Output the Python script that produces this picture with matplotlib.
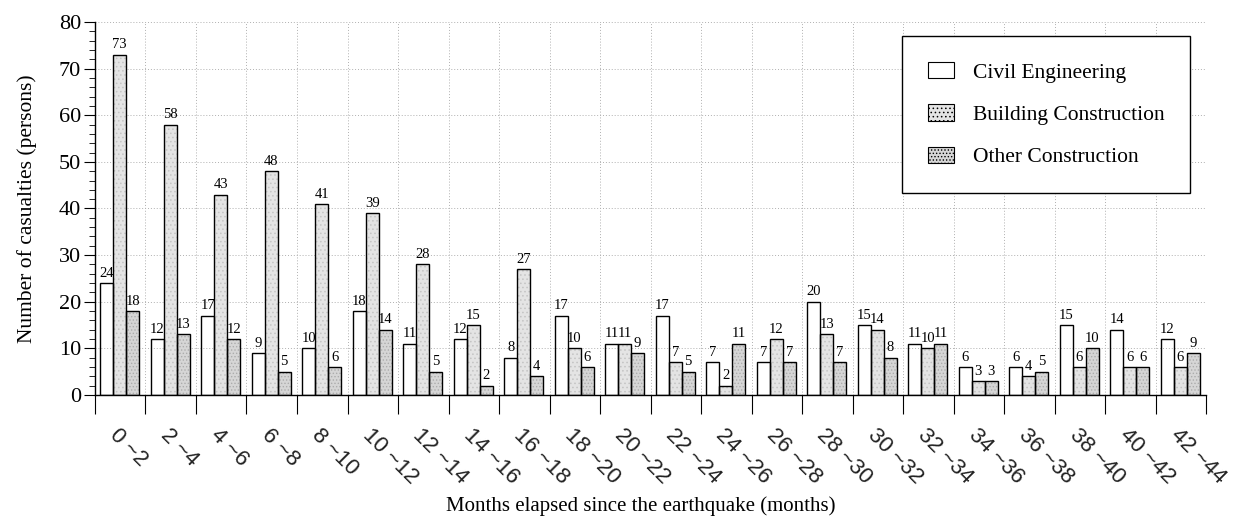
import numpy as np
import matplotlib.pyplot as plt
from matplotlib.patches import Patch
from matplotlib.ticker import MultipleLocator

# periods (months after the earthquake)
periods = ['0 ~2', '2 ~4', '4 ~6', '6 ~8', '8 ~10', '10 ~12', '12 ~14', '14 ~16',
           '16 ~18', '18 ~20', '20 ~22', '22 ~24', '24 ~26', '26 ~28', '28 ~30',
           '30 ~32', '32 ~34', '34 ~36', '36 ~38', '38 ~40', '40 ~42', '42 ~44']
civil = [24, 12, 17, 9, 10, 18, 11, 12, 8, 17, 11, 17, 7, 7, 20, 15, 11, 6, 6, 15, 14, 12]
building = [73, 58, 43, 48, 41, 39, 28, 15, 27, 10, 11, 7, 2, 12, 13, 14, 10, 3, 4, 6, 6, 6]
other = [18, 13, 12, 5, 6, 14, 5, 2, 4, 6, 9, 5, 11, 7, 7, 8, 11, 3, 5, 10, 6, 9]

series_names = ['Civil Engineering', 'Building Construction', 'Other Construction']
series = [civil, building, other]
faces = ['white', '#e4e4e4', '#d6d6d6']
hatch_cols = [None, '#c4c4c4', '#acacac']
hatches = [None, '....', '.....']

plt.rcParams['font.family'] = ['Liberation Serif', 'DejaVu Serif']
plt.rcParams['hatch.linewidth'] = 0.6

fig = plt.figure(figsize=(12.45, 5.24), dpi=100)
ax = fig.add_axes([0.0763, 0.2462, 0.8924, 0.7118])

x = np.arange(len(periods))
w = 0.255
for k, vals in enumerate(series):
    pos = x + 0.49 + (k - 1) * w
    if hatches[k]:
        ax.bar(pos, vals, w, color=faces[k], edgecolor=hatch_cols[k], hatch=hatches[k],
               linewidth=0, zorder=2)
    ax.bar(pos, vals, w, facecolor='none', edgecolor='black', linewidth=1.0, zorder=3)
    for p, v in zip(pos, vals):
        ax.text(p, v + 0.7, str(v), ha='center', va='bottom', fontsize=10.5, zorder=4)

ax.set_xlim(0, len(periods))
ax.set_ylim(0, 80)
ax.yaxis.set_major_locator(MultipleLocator(10))
ax.yaxis.set_minor_locator(MultipleLocator(2))
ax.set_xticks(np.arange(len(periods) + 1))
ax.set_xticklabels([])
ax.tick_params(axis='x', direction='out', length=14, width=0.8)
ax.tick_params(axis='y', which='major', direction='out', length=8, width=0.8,
               labelsize=16, pad=2)
ax.tick_params(axis='y', which='minor', direction='out', length=4, width=0.6)

for s in ['top', 'right']:
    ax.spines[s].set_visible(False)
ax.spines['left'].set_linewidth(1.0)
ax.spines['bottom'].set_linewidth(1.0)

for yv in range(10, 81, 10):
    ax.axhline(yv, color='#b0b0b0', linestyle=(0, (1, 2)), linewidth=0.7, zorder=1)
for xv in range(1, len(periods) + 1):
    ax.axvline(xv, color='#b0b0b0', linestyle=(0, (1, 2)), linewidth=0.7, zorder=1)

for i, lab in enumerate(periods):
    ax.text(i + 0.36, -8.0, lab, rotation=-45, rotation_mode='anchor', ha='left',
            va='center', fontsize=16, family=['Liberation Sans', 'DejaVu Sans'],
            color='#222222')

ax.set_ylabel('Number of casualties (persons)', fontsize=15.5, labelpad=16)
fig.text(0.515, 0.035, 'Months elapsed since the earthquake (months)', ha='center',
         va='center', fontsize=15)

handles = [Patch(facecolor=faces[k], edgecolor='black', hatch=hatches[k], linewidth=0.8)
           for k in range(3)]
leg = ax.legend(handles, series_names, loc='upper right', bbox_to_anchor=(0.986, 0.962),
                fontsize=15.5, fancybox=False, framealpha=1, edgecolor='black',
                borderpad=1.2, labelspacing=1.0, handlelength=1.2, handleheight=0.8,
                handletextpad=0.9, borderaxespad=0)
leg.get_frame().set_linewidth(1.0)

fig.savefig('out.png', dpi=100)
